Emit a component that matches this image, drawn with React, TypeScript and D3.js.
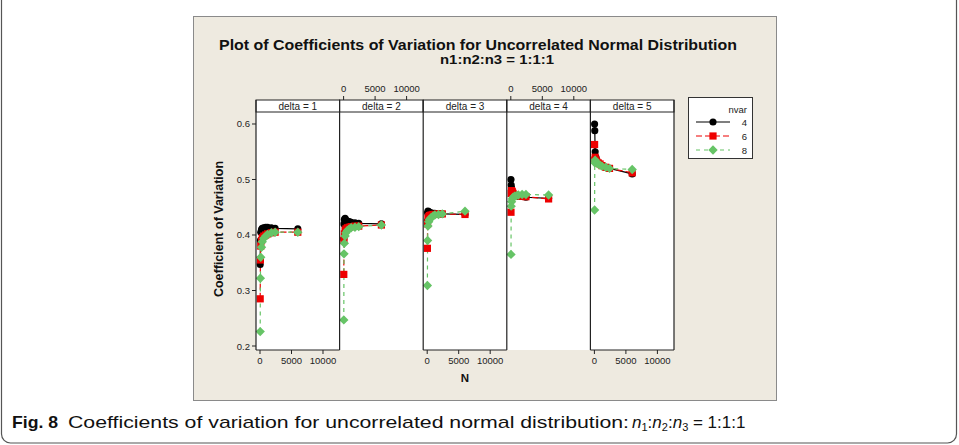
import React from "react";
import * as d3 from "d3";

const deltas = [1, 2, 3, 4, 5];
const nvars = ["4", "6", "8"];
const sampleN = [30, 60, 120, 240, 360, 600, 900, 1200, 1800, 2400, 6000];

// CV values per delta, per nvar (4, 6, 8)
const cvDelta1 = [
  [0.347, 0.39, 0.405, 0.41, 0.412, 0.413, 0.414, 0.414, 0.413, 0.412, 0.411],
  [0.285, 0.355, 0.38, 0.39, 0.395, 0.398, 0.4, 0.402, 0.404, 0.405, 0.405],
  [0.226, 0.322, 0.36, 0.378, 0.388, 0.394, 0.398, 0.401, 0.404, 0.405, 0.405],
];
const cvDelta2 = [
  [0.393, 0.42, 0.428, 0.43, 0.427, 0.425, 0.424, 0.423, 0.422, 0.421, 0.42],
  [0.329, 0.39, 0.402, 0.408, 0.411, 0.413, 0.414, 0.415, 0.416, 0.416, 0.418],
  [0.247, 0.366, 0.385, 0.398, 0.404, 0.408, 0.411, 0.413, 0.414, 0.415, 0.418],
];
const cvDelta3 = [
  [0.425, 0.44, 0.443, 0.442, 0.44, 0.44, 0.439, 0.439, 0.438, 0.438, 0.437],
  [0.376, 0.42, 0.43, 0.433, 0.435, 0.436, 0.437, 0.437, 0.438, 0.438, 0.437],
  [0.309, 0.39, 0.416, 0.424, 0.428, 0.431, 0.434, 0.436, 0.437, 0.438, 0.443],
];
const cvDelta4 = [
  [0.5, 0.49, 0.485, 0.478, 0.475, 0.472, 0.47, 0.47, 0.47, 0.468, 0.466],
  [0.441, 0.475, 0.48, 0.478, 0.475, 0.472, 0.471, 0.47, 0.47, 0.469, 0.465],
  [0.365, 0.452, 0.46, 0.465, 0.468, 0.47, 0.471, 0.472, 0.473, 0.473, 0.472],
];
const cvDelta5 = [
  [0.6, 0.588, 0.55, 0.54, 0.535, 0.53, 0.528, 0.525, 0.522, 0.52, 0.51],
  [0.563, 0.535, 0.54, 0.535, 0.532, 0.53, 0.528, 0.525, 0.522, 0.52, 0.512],
  [0.445, 0.53, 0.535, 0.532, 0.53, 0.528, 0.526, 0.524, 0.522, 0.52, 0.518],
];
const cvByDelta = [cvDelta1, cvDelta2, cvDelta3, cvDelta4, cvDelta5];

const xTicks = [0, 5000, 10000];
const yTicks = [0.2, 0.3, 0.4, 0.5, 0.6];

const title = "Plot of Coefficients of Variation for Uncorrelated Normal Distribution";
const subtitle = "n1:n2:n3 = 1:1:1";
const yLabel = "Coefficient of Variation";
const xLabel = "N";
const captionBold = "Fig. 8";
const captionText = "Coefficients of variation for uncorrelated normal distribution:";

const colors = ["#000000", "#EE0000", "#66C466"];
const dashes = [null, "6,3", "4,4"];
const symbols = [d3.symbolCircle, d3.symbolSquare, d3.symbolDiamond2];
const symSizes = [40, 52, 56];

export default function App() {
  const W = 959;
  const H = 445;
  const panelLeft = 256;
  const panelRight = 674;
  const panelTop = 112;
  const stripTop = 100;
  const panelBottom = 350;
  const pw = (panelRight - panelLeft) / deltas.length;

  const x = d3.scaleLinear().domain([-635, 12635]).range([0, pw]);
  const y = d3.scaleLinear().domain([0.1928, 0.6216]).range([panelBottom, panelTop]);
  const font = "Liberation Sans, Arial, sans-serif";
  const tickFs = 9.5;

  return (
    <svg width={W} height={H} style={{ position: "absolute", left: 0, top: 0 }}>
      <rect x={0} y={0} width={W} height={H} fill="#fff" />
      <rect x={1.5} y={-20} width={955} height={463} rx={9} fill="none" stroke="#555" strokeWidth={1.2} />
      <rect x={193.5} y={16.5} width={583} height={384} fill="#EEEAE0" stroke="#8a8a8a" strokeWidth={1} />
      <text x={478} y={50} textAnchor="middle" fontFamily={font} fontWeight="bold" fontSize={15} textLength={518} lengthAdjust="spacingAndGlyphs" fill="#111">{title}</text>
      <text x={497} y={64} textAnchor="middle" fontFamily={font} fontWeight="bold" fontSize={12.5} textLength={114} lengthAdjust="spacingAndGlyphs" fill="#111">{subtitle}</text>

      {deltas.map((d, i) => {
        const x0 = panelLeft + i * pw;
        const series = cvByDelta[i];
        return (
          <g key={d}>
            <rect x={x0} y={panelTop} width={pw} height={panelBottom - panelTop} fill="#fff" />
            <rect x={x0} y={stripTop} width={pw} height={panelTop - stripTop} fill="#fff" stroke="#222" strokeWidth={1} />
            <text x={x0 + pw / 2} y={panelTop - 2.5} textAnchor="middle" fontFamily={font} fontSize={10} fill="#222">{`delta = ${d}`}</text>
            <g transform={`translate(${x0},0)`}>
              {series.map((vals, s) => {
                const pts = sampleN.map((n, k) => [x(n), y(vals[k])] as [number, number]);
                const line = d3.line()(pts) || "";
                return (
                  <path key={s} d={line} fill="none" stroke={colors[s]} strokeWidth={1.2} strokeDasharray={dashes[s] || undefined} />
                );
              })}
              {series.map((vals, s) => {
                const sym = d3.symbol().type(symbols[s]).size(symSizes[s])() || "";
                return (
                  <g key={`m${s}`}>
                    {sampleN.map((n, k) => (
                      <path key={k} d={sym} transform={`translate(${x(n)},${y(vals[k])})`} fill={colors[s]} />
                    ))}
                  </g>
                );
              })}
            </g>
            {i % 2 === 0 &&
              xTicks.map((t) => (
                <g key={t}>
                  <line x1={x0 + x(t)} x2={x0 + x(t)} y1={panelBottom} y2={panelBottom + 4} stroke="#222" />
                  <text x={x0 + x(t)} y={panelBottom + 14} textAnchor="middle" fontFamily={font} fontSize={tickFs} fill="#222">{t}</text>
                </g>
              ))}
            {i % 2 === 0 && (
              <line x1={x0} x2={x0 + pw} y1={panelBottom} y2={panelBottom} stroke="#222" />
            )}
            {i % 2 === 1 &&
              xTicks.map((t) => (
                <g key={t}>
                  <line x1={x0 + x(t)} x2={x0 + x(t)} y1={stripTop} y2={stripTop - 4} stroke="#222" />
                  <text x={x0 + x(t)} y={stripTop - 8} textAnchor="middle" fontFamily={font} fontSize={tickFs} fill="#222">{t}</text>
                </g>
              ))}
            <line x1={x0} x2={x0} y1={stripTop} y2={panelBottom} stroke="#222" strokeWidth={1.2} />
          </g>
        );
      })}
      <line x1={panelRight} x2={panelRight} y1={stripTop} y2={panelBottom} stroke="#222" strokeWidth={1.2} />

      {yTicks.map((t) => (
        <g key={t}>
          <line x1={panelLeft - 4} x2={panelLeft} y1={y(t)} y2={y(t)} stroke="#222" />
          <text x={panelLeft - 6} y={y(t) + 3.5} textAnchor="end" fontFamily={font} fontSize={tickFs} fill="#222">{t.toFixed(1)}</text>
        </g>
      ))}
      <text transform={`translate(223,${(panelTop + panelBottom) / 2 - 2}) rotate(-90)`} textAnchor="middle" fontFamily={font} fontWeight="bold" fontSize={12.5} fill="#111">{yLabel}</text>
      <text x={465} y={382} textAnchor="middle" fontFamily={font} fontWeight="bold" fontSize={11.5} fill="#111">{xLabel}</text>

      <rect x={688.5} y={97.5} width={64} height={61} fill="#fff" stroke="#333" />
      <text x={747} y={113} textAnchor="end" fontFamily={font} fontSize={tickFs} fill="#222">nvar</text>
      {nvars.map((nv, s) => {
        const ly = 122 + s * 14;
        const sym = d3.symbol().type(symbols[s]).size(symSizes[s])() || "";
        return (
          <g key={nv}>
            <line x1={696} x2={730} y1={ly} y2={ly} stroke={colors[s]} strokeWidth={1.2} strokeDasharray={dashes[s] || undefined} />
            <path d={sym} transform={`translate(713,${ly})`} fill={colors[s]} />
            <text x={747} y={ly + 3.5} textAnchor="end" fontFamily={font} fontSize={tickFs} fill="#222">{nv}</text>
          </g>
        );
      })}

      <text x={12} y={428} fontFamily={font} fontSize={17} fontWeight="bold" textLength={46} lengthAdjust="spacingAndGlyphs" fill="#111">{captionBold}</text>
      <text x={68} y={428} fontFamily={font} fontSize={17} textLength={561} lengthAdjust="spacingAndGlyphs" fill="#111">{captionText}</text>
      <text x={632} y={428} fontFamily={font} fontSize={17} fill="#111">
        <tspan fontStyle="italic">n</tspan>
        <tspan fontSize={11} dy={3}>1</tspan>
        <tspan dy={-3}>:</tspan>
        <tspan fontStyle="italic">n</tspan>
        <tspan fontSize={11} dy={3}>2</tspan>
        <tspan dy={-3}>:</tspan>
        <tspan fontStyle="italic">n</tspan>
        <tspan fontSize={11} dy={3}>3</tspan>
        <tspan dy={-3}> = 1:1:1</tspan>
      </text>
    </svg>
  );
}
